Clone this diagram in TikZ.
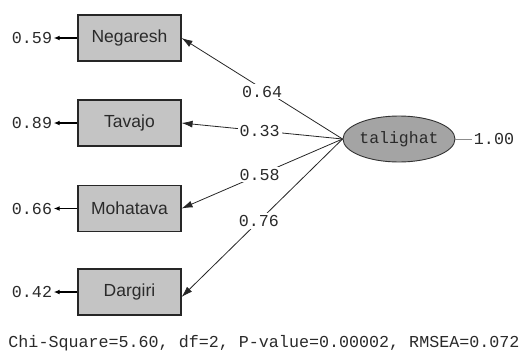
\documentclass[tikz,border=0pt]{standalone}
\usepackage{fontspec}
\setmainfont{Liberation Sans}
\newfontfamily\monofnt{Liberation Mono}
\usetikzlibrary{arrows.meta,shapes.geometric}
\definecolor{boxgray}{HTML}{C4C4C4}
\definecolor{ellgray}{HTML}{A4A4A4}
\definecolor{txtgray}{HTML}{2A2A2A}
\begin{document}
\begin{tikzpicture}[x=1pt,y=-1pt,
  obsbox/.style={draw=black!85,line width=1.1pt,fill=boxgray,minimum width=103pt,minimum height=46pt,inner sep=0pt,font=\fontsize{17.5}{19}\selectfont,text=txtgray},
  latbox/.style={ellipse,draw=black!80,line width=0.9pt,fill=ellgray,minimum width=102pt,minimum height=46pt,inner sep=0pt,font=\monofnt\fontsize{16.5}{18}\selectfont,text=txtgray},
  numlbl/.style={font=\monofnt\fontsize{16.7}{18}\selectfont,text=txtgray,inner sep=1.5pt},
  pathlbl/.style={numlbl,fill=white,inner sep=2pt},
  loadarrow/.style={draw=black!85,line width=0.8pt,-{Latex[length=11pt,width=7pt]}},
  errarrow/.style={draw=black,line width=1.4pt,-{Latex[length=6pt,width=5pt]}},
  varline/.style={draw=black!45,line width=0.7pt}
]
\useasboundingbox (0,0) rectangle (530,356);
\node[obsbox] (N) at (129.5,38) {Negaresh};
\node[obsbox] (Tv) at (129.5,123) {Tavajo};
\node[obsbox] (M) at (129.5,208.5) {Mohatava};
\node[obsbox] (D) at (129.5,292) {Dargiri};
\node[latbox] (L) at (399,139) {talighat};

\node[numlbl] (eN) at (32,38) {0.59};
\node[numlbl] (eT) at (32,123) {0.89};
\node[numlbl] (eM) at (32,208.5) {0.66};
\node[numlbl] (eD) at (32,292) {0.42};
\draw[errarrow] (N.west) -- (eN.east);
\draw[errarrow] (Tv.west) -- (eT.east);
\draw[errarrow] (M.west) -- (eM.east);
\draw[errarrow] (D.west) -- (eD.east);

\draw[loadarrow] (L.west) -- node[pathlbl,pos=0.5,yshift=-3pt] {0.64} (N.east);
\draw[loadarrow] (L.west) -- node[pathlbl,pos=0.515] {0.33} (Tv.east);
\draw[loadarrow] (L.west) -- node[pathlbl,pos=0.515] {0.58} (M.east);
\draw[loadarrow] (L.west) -- node[pathlbl,pos=0.52] {0.76} ([yshift=-5pt]D.east);

\node[numlbl] (v) at (494,139) {1.00};
\draw[varline] (L.east) -- (v.west);

\node[numlbl] (fit) at (264,343) {Chi-Square=5.60, df=2, P-value=0.00002, RMSEA=0.072};
\end{tikzpicture}
\end{document}
